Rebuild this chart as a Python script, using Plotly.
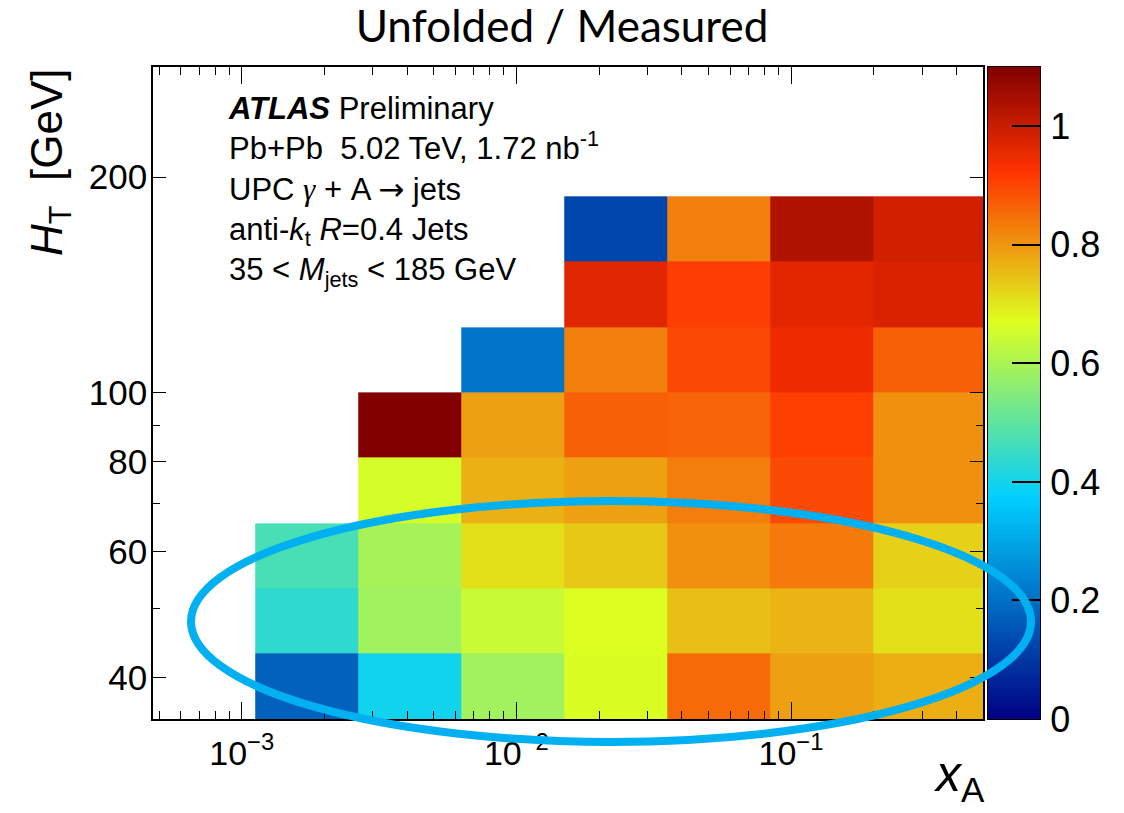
import plotly.graph_objects as go

# ---- data -------------------------------------------------------------
x_edges = [1.12e-3, 2.65e-3, 6.3e-3, 1.49e-2, 3.53e-2, 8.4e-2, 0.2, 0.5]
y_edges = [35, 43.2, 53.3, 65.7, 81.1, 100.1, 123.5, 152.4, 188.0]

# ratio values, rows from lowest H_T bin upwards, columns from lowest x_A
z_vals = [
    [0.177, 0.398, 0.588, 0.665, 0.856, 0.789, 0.771],
    [0.438, 0.588, 0.641, 0.668, 0.749, 0.764, 0.709],
    [0.470, 0.595, 0.709, 0.739, 0.809, 0.836, 0.729],
    [None, 0.658, 0.769, 0.789, 0.831, 0.896, 0.809],
    [None, 1.120, 0.789, 0.868, 0.862, 0.909, 0.809],
    [None, None, 0.211, 0.829, 0.897, 0.948, 0.868],
    [None, None, None, 0.968, 0.910, 0.965, 0.978],
    [None, None, None, 0.128, 0.830, 1.035, 0.990],
]

x_major = [1e-3, 1e-2, 1e-1]
x_major_text = ["10<sup>−3</sup>", "10<sup>−2</sup>", "10<sup>−1</sup>"]
x_minor = [5e-4, 6e-4, 7e-4, 8e-4, 9e-4,
           2e-3, 3e-3, 4e-3, 5e-3, 6e-3, 7e-3, 8e-3, 9e-3,
           2e-2, 3e-2, 4e-2, 5e-2, 6e-2, 7e-2, 8e-2, 9e-2,
           2e-1, 3e-1, 4e-1]
y_major = [40, 60, 80, 100, 200]
y_minor = [50, 70, 90]

# colour-bar: z range end points and tick labels
z_range = [0.0, 1.1]
cb_ticks = [0, 0.2, 0.4, 0.6, 0.8, 1.0]
cb_text = ["0", "0.2", "0.4", "0.6", "0.8", "1"]

# ---- geometry ---------------------------------------------------------
FONT = "Liberation Sans, Arial, Helvetica, sans-serif"
OFF = 8                      # page offset of the plot div
W, H = 1124 - OFF, 813 - OFF
ML, MT, MB = 153 - OFF, 67 - OFF, 94
MR = W - (1040 - OFF)        # paper area ends at right edge of colour bar
PW = W - ML - MR
PH = H - MT - MB


def fx(page_x):
    return (page_x - OFF - ML) / PW


def fy(page_y):
    return (H - MB - (page_y - OFF)) / PH


colorscale = [
    [0.00, "#000082"],
    [0.34, "#00CFFF"],
    [0.61, "#DEFF1F"],
    [0.84, "#FF3300"],
    [1.00, "#820000"],
]

fig = go.Figure()
fig.add_trace(go.Heatmap(
    x=x_edges, y=y_edges, z=z_vals,
    zmin=z_range[0], zmax=z_range[1], colorscale=colorscale,
    hoverongaps=False, showscale=False,
))

# colour bar drawn as its own small heatmap so that the ellipse can sit above it
fig.add_trace(go.Heatmap(
    x=[0, 1], y=z_range, z=[[z_range[0], z_range[0]], [z_range[1], z_range[1]]],
    zmin=z_range[0], zmax=z_range[1], colorscale=colorscale,
    zsmooth="best", showscale=False, hoverinfo="skip",
    xaxis="x2", yaxis="y2",
))

axis_common = dict(
    showgrid=False, zeroline=False, showline=True, linecolor="black",
    linewidth=1.5, mirror="ticks", ticks="inside", tickcolor="black",
    tickwidth=1.3,
)

fig.update_layout(
    xaxis=dict(
        domain=[0, fx(983)], anchor="y",
        type="log", range=[-3.323, -0.301],
        tickmode="array", tickvals=x_major, ticktext=x_major_text,
        ticklen=17, ticklabelstandoff=3,
        tickfont=dict(family=FONT, size=34, color="black"),
        minor=dict(tickmode="array", tickvals=x_minor, ticks="inside",
                   ticklen=8, tickcolor="black", tickwidth=1.3),
        **axis_common,
    ),
    yaxis=dict(
        domain=[0, 1], anchor="x",
        type="log", range=[1.5441, 2.4548],
        tickmode="array", tickvals=y_major,
        ticktext=[str(v) for v in y_major],
        ticklen=13, ticklabelstandoff=-3,
        tickfont=dict(family=FONT, size=35, color="black"),
        minor=dict(tickmode="array", tickvals=y_minor, ticks="inside",
                   ticklen=7, tickcolor="black", tickwidth=1.3),
        **axis_common,
    ),
    xaxis2=dict(
        domain=[fx(988), 1], anchor="y2", range=[0, 1],
        showgrid=False, zeroline=False, showticklabels=False, ticks="",
        showline=True, linecolor="black", linewidth=1, mirror=True,
    ),
    yaxis2=dict(
        domain=[0, 1], anchor="x2", side="right", range=z_range,
        showgrid=False, zeroline=False,
        showline=True, linecolor="black", linewidth=1, mirror=True,
        tickmode="array", tickvals=cb_ticks, ticktext=cb_text,
        ticks="inside", ticklen=28, tickwidth=1.5, tickcolor="black",
        ticklabelstandoff=2,
        tickfont=dict(family=FONT, size=36, color="black"),
    ),
)

# ellipse highlight (above everything, including the colour bar)
fig.add_shape(
    type="circle", xref="paper", yref="paper",
    x0=fx(191), x1=fx(1031), y0=fy(742), y1=fy(501),
    line=dict(color="#00B0F0", width=8), layer="above",
)

# ATLAS label block
fig.add_annotation(
    xref="paper", yref="paper", x=fx(226), y=fy(89),
    xanchor="left", yanchor="top", align="left", showarrow=False,
    text=("<b><i>ATLAS</i></b> Preliminary<br>"
          "Pb+Pb  5.02 TeV, 1.72 nb<sup>-1</sup><br>"
          "UPC <span style=\"font-family:Liberation Serif\"><i>γ</i></span>"
          " + A <span style=\"font-family:DejaVu Sans\">→</span> jets<br>"
          "anti-<i>k</i><sub>t</sub> <i>R</i>=0.4 Jets<br>"
          "35 &lt; <i>M</i><sub>jets</sub> &lt; 185 GeV"),
    font=dict(family=FONT, size=31, color="black"),
)

# axis titles
fig.add_annotation(
    xref="paper", yref="paper", x=fx(50), y=fy(66),
    xanchor="center", yanchor="top", showarrow=False, textangle=-90,
    text="<i>H</i><sub>T</sub>  [GeV]",
    font=dict(family=FONT, size=44, color="black"),
)
fig.add_annotation(
    xref="paper", yref="paper", x=fx(987), y=fy(811),
    xanchor="right", yanchor="bottom", showarrow=False,
    text="<i>x</i><sub>A</sub>",
    font=dict(family=FONT, size=50, color="black"),
)

fig.update_layout(
    width=W, height=H,
    margin=dict(l=ML, r=MR, t=MT, b=MB, pad=0),
    paper_bgcolor="white", plot_bgcolor="white",
    title=dict(text="Unfolded / Measured", x=(562 - OFF) / W,
               xanchor="center", xref="container",
               y=1 - (27 - OFF) / H, yanchor="middle", yref="container",
               font=dict(family="Lato, Open Sans, sans-serif", size=44,
                         color="black")),
    showlegend=False,
)

fig.write_html("out.html")
